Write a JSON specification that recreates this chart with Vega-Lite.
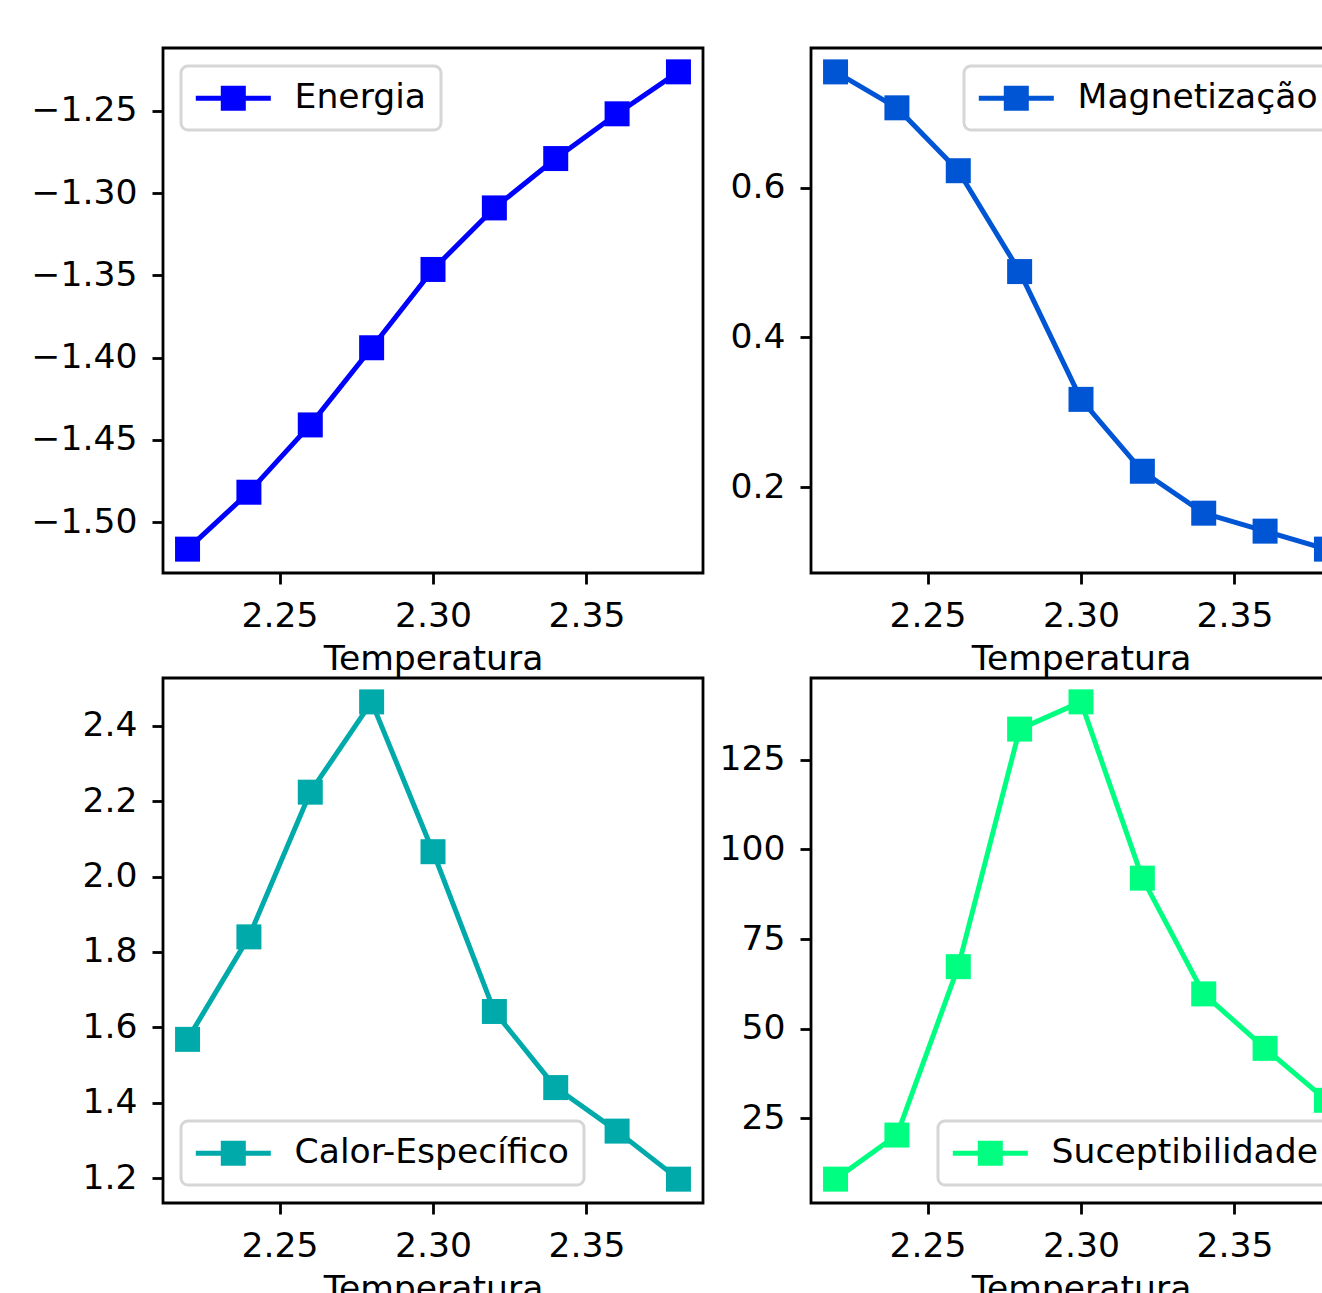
{
  "$schema": "https://vega.github.io/schema/vega-lite/v6.json",
  "padding": {"left": 29, "top": 46, "right": 0, "bottom": 0},
  "background": "white",
  "data": {"values": [
    {"T": 2.22, "serie": "Energia", "v": -1.5164},
    {"T": 2.24, "serie": "Energia", "v": -1.4818},
    {"T": 2.26, "serie": "Energia", "v": -1.4409},
    {"T": 2.28, "serie": "Energia", "v": -1.3940},
    {"T": 2.30, "serie": "Energia", "v": -1.3464},
    {"T": 2.32, "serie": "Energia", "v": -1.3090},
    {"T": 2.34, "serie": "Energia", "v": -1.2790},
    {"T": 2.36, "serie": "Energia", "v": -1.2518},
    {"T": 2.38, "serie": "Energia", "v": -1.2263},
    {"T": 2.22, "serie": "Magnetização", "v": 0.7547},
    {"T": 2.24, "serie": "Magnetização", "v": 0.7067},
    {"T": 2.26, "serie": "Magnetização", "v": 0.6227},
    {"T": 2.28, "serie": "Magnetização", "v": 0.4880},
    {"T": 2.30, "serie": "Magnetização", "v": 0.3173},
    {"T": 2.32, "serie": "Magnetização", "v": 0.2213},
    {"T": 2.34, "serie": "Magnetização", "v": 0.1653},
    {"T": 2.36, "serie": "Magnetização", "v": 0.1413},
    {"T": 2.38, "serie": "Magnetização", "v": 0.1173},
    {"T": 2.22, "serie": "Calor-Específico", "v": 1.568},
    {"T": 2.24, "serie": "Calor-Específico", "v": 1.840},
    {"T": 2.26, "serie": "Calor-Específico", "v": 2.224},
    {"T": 2.28, "serie": "Calor-Específico", "v": 2.4636},
    {"T": 2.30, "serie": "Calor-Específico", "v": 2.066},
    {"T": 2.32, "serie": "Calor-Específico", "v": 1.642},
    {"T": 2.34, "serie": "Calor-Específico", "v": 1.440},
    {"T": 2.36, "serie": "Calor-Específico", "v": 1.3245},
    {"T": 2.38, "serie": "Calor-Específico", "v": 1.197},
    {"T": 2.22, "serie": "Suceptibilidade", "v": 8.0},
    {"T": 2.24, "serie": "Suceptibilidade", "v": 20.3},
    {"T": 2.26, "serie": "Suceptibilidade", "v": 67.3},
    {"T": 2.28, "serie": "Suceptibilidade", "v": 133.6},
    {"T": 2.30, "serie": "Suceptibilidade", "v": 141.2},
    {"T": 2.32, "serie": "Suceptibilidade", "v": 92.0},
    {"T": 2.34, "serie": "Suceptibilidade", "v": 59.7},
    {"T": 2.36, "serie": "Suceptibilidade", "v": 44.5},
    {"T": 2.38, "serie": "Suceptibilidade", "v": 30.0}
  ]},
  "columns": 2,
  "spacing": {"row": 105, "column": 108},
  "bounds": "flush",
  "resolve": {"scale": {"color": "independent", "x": "independent", "y": "independent"}, "legend": {"color": "independent"}},
  "concat": [
    {
      "width": 540, "height": 525,
      "transform": [{"filter": {"field": "serie", "equal": "Energia"}}],
      "encoding": {
        "x": {"field": "T", "type": "quantitative", "scale": {"domain": [2.212, 2.388], "nice": false, "zero": false}, "axis": {"values": [2.25, 2.3, 2.35], "format": ".2f", "title": "Temperatura"}},
        "y": {"field": "v", "type": "quantitative", "scale": {"domain": [-1.5309, -1.2118], "nice": false, "zero": false}, "axis": {"values": [-1.5, -1.45, -1.4, -1.35, -1.3, -1.25], "format": ".2f", "title": null}}
      },
      "layer": [
        {"mark": {"type": "line", "color": "#0000ff", "strokeWidth": 5, "strokeJoin": "round"}},
        {"mark": {"type": "point", "shape": "square", "filled": true, "size": 625, "opacity": 1, "strokeWidth": 0},
         "encoding": {"color": {"field": "serie", "type": "nominal", "scale": {"domain": ["Energia"], "range": ["#0000ff"]}, "legend": {"orient": "top-left", "title": null}}}}
      ]
    },
    {
      "width": 540, "height": 525,
      "transform": [{"filter": {"field": "serie", "equal": "Magnetização"}}],
      "encoding": {
        "x": {"field": "T", "type": "quantitative", "scale": {"domain": [2.212, 2.388], "nice": false, "zero": false}, "axis": {"values": [2.25, 2.3, 2.35], "format": ".2f", "title": "Temperatura"}},
        "y": {"field": "v", "type": "quantitative", "scale": {"domain": [0.0854, 0.7866], "nice": false, "zero": false}, "axis": {"values": [0.2, 0.4, 0.6], "format": ".1f", "title": null}}
      },
      "layer": [
        {"mark": {"type": "line", "color": "#0055d4", "strokeWidth": 5, "strokeJoin": "round"}},
        {"mark": {"type": "point", "shape": "square", "filled": true, "size": 625, "opacity": 1, "strokeWidth": 0},
         "encoding": {"color": {"field": "serie", "type": "nominal", "scale": {"domain": ["Magnetização"], "range": ["#0055d4"]}, "legend": {"orient": "top-right", "title": null}}}}
      ]
    },
    {
      "width": 540, "height": 525,
      "transform": [{"filter": {"field": "serie", "equal": "Calor-Específico"}}],
      "encoding": {
        "x": {"field": "T", "type": "quantitative", "scale": {"domain": [2.212, 2.388], "nice": false, "zero": false}, "axis": {"values": [2.25, 2.3, 2.35], "format": ".2f", "title": "Temperatura"}},
        "y": {"field": "v", "type": "quantitative", "scale": {"domain": [1.1337, 2.527], "nice": false, "zero": false}, "axis": {"values": [1.2, 1.4, 1.6, 1.8, 2.0, 2.2, 2.4], "format": ".1f", "title": null}}
      },
      "layer": [
        {"mark": {"type": "line", "color": "#00aaaa", "strokeWidth": 5, "strokeJoin": "round"}},
        {"mark": {"type": "point", "shape": "square", "filled": true, "size": 625, "opacity": 1, "strokeWidth": 0},
         "encoding": {"color": {"field": "serie", "type": "nominal", "scale": {"domain": ["Calor-Específico"], "range": ["#00aaaa"]}, "legend": {"orient": "bottom-left", "title": null}}}}
      ]
    },
    {
      "width": 540, "height": 525,
      "transform": [{"filter": {"field": "serie", "equal": "Suceptibilidade"}}],
      "encoding": {
        "x": {"field": "T", "type": "quantitative", "scale": {"domain": [2.212, 2.388], "nice": false, "zero": false}, "axis": {"values": [2.25, 2.3, 2.35], "format": ".2f", "title": "Temperatura"}},
        "y": {"field": "v", "type": "quantitative", "scale": {"domain": [1.34, 147.86], "nice": false, "zero": false}, "axis": {"values": [25, 50, 75, 100, 125], "format": "d", "title": null}}
      },
      "layer": [
        {"mark": {"type": "line", "color": "#00ff80", "strokeWidth": 5, "strokeJoin": "round"}},
        {"mark": {"type": "point", "shape": "square", "filled": true, "size": 625, "opacity": 1, "strokeWidth": 0},
         "encoding": {"color": {"field": "serie", "type": "nominal", "scale": {"domain": ["Suceptibilidade"], "range": ["#00ff80"]}, "legend": {"orient": "bottom-right", "title": null}}}}
      ]
    }
  ],
  "config": {
    "font": "DejaVu Sans",
    "view": {"stroke": "black", "strokeWidth": 2.8},
    "axis": {
      "grid": false, "domain": false,
      "tickColor": "black", "tickWidth": 2.8, "tickSize": 11,
      "labelFont": "DejaVu Sans", "labelFontSize": 34.6, "labelColor": "black", "labelPadding": 15,
      "labelFlush": false, "labelOverlap": false, "labelBound": false,
      "titleFont": "DejaVu Sans", "titleFontSize": 34.6, "titleFontWeight": "normal", "titleColor": "black", "titlePadding": 10
    },
    "legend": {
      "labelFont": "DejaVu Sans", "labelFontSize": 34.6, "labelColor": "black", "labelLimit": 600,
      "symbolType": "M-3,-0.2H3V0.2H-3ZM-1,-1H1V1H-1Z",
      "symbolSize": 625, "symbolStrokeWidth": 0, "symbolOffset": 20, "symbolOpacity": 1,
      "labelOffset": 44, "padding": 15,
      "strokeColor": "#d6d6d6", "strokeWidth": 3, "cornerRadius": 7,
      "fillColor": "rgba(255,255,255,0.8)", "offset": 18
    }
  }
}
